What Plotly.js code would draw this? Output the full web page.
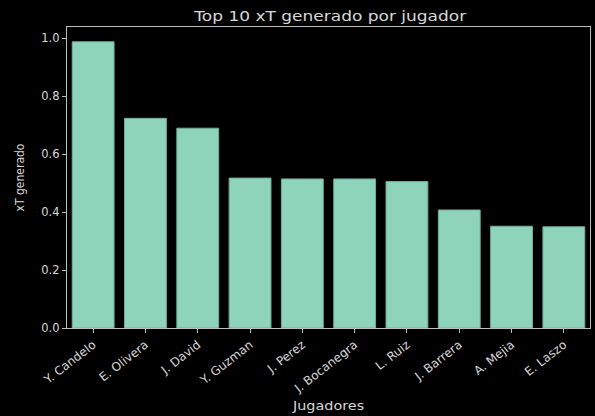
<!DOCTYPE html>
<html>
<head>
<meta charset="utf-8">
<script src="https://cdn.plot.ly/plotly-3.0.1.min.js"></script>
<style>
html,body{margin:0;padding:0;background:#000;}
#chart{width:595px;height:416px;}
#chart .gtitle{transform:scaleX(1.26);transform-box:fill-box;transform-origin:center;}
#chart .xtitle{transform:scaleX(1.2);transform-box:fill-box;transform-origin:center;}
</style>
</head>
<body>
<div id="chart"></div>
<script>
const players = ["Y. Candelo","E. Olivera","J. David","Y. Guzman","J. Perez","J. Bocanegra","L. Ruiz","J. Barrera","A. Mejia","E. Laszo"];
const xtValues = [0.987,0.723,0.689,0.517,0.514,0.514,0.505,0.407,0.351,0.349];
const yTicks = [0,0.2,0.4,0.6,0.8,1.0];
const yTickLabels = ["0.0","0.2","0.4","0.6","0.8","1.0"];

const fontFam = "DejaVu Sans, sans-serif";
const txt = "#d8d8d8";
const axisLine = "#bdbdbd";

Plotly.newPlot("chart", [{
  type: "bar",
  x: players,
  y: xtValues,
  width: 0.8,
  marker: {color: "#8dd4bb", line: {color: "#6fae9c", width: 1}},
  hoverinfo: "x+y"
}], {
  width: 595, height: 416,
  paper_bgcolor: "#000", plot_bgcolor: "#000",
  margin: {l: 67, r: 5, t: 27, b: 88},
  title: {text: "Top 10 xT generado por jugador", font: {family: fontFam, size: 13.5, color: txt}, x: 0.555, xanchor: "center", y: 0.96, yanchor: "middle"},
  xaxis: {
    type: "category", range: [-0.5, 9.5],
    tickangle: -38, tickfont: {family: fontFam, size: 12, color: txt},
    ticks: "outside", ticklen: 4, tickcolor: axisLine, tickwidth: 1,
    showline: true, linecolor: axisLine, linewidth: 1.2, mirror: true,
    showgrid: false, zeroline: false,
    title: {text: "Jugadores", font: {family: fontFam, size: 12, color: txt}, standoff: 6}
  },
  yaxis: {
    range: [0, 1.038], tickvals: yTicks, ticktext: yTickLabels,
    tickfont: {family: fontFam, size: 11.5, color: txt},
    ticks: "outside", ticklen: 4, tickcolor: axisLine, tickwidth: 1,
    showline: true, linecolor: axisLine, linewidth: 1.2, mirror: true,
    showgrid: false, zeroline: false,
    title: {text: "xT generado", font: {family: "DejaVu Sans Condensed, Liberation Sans Narrow, sans-serif", size: 12, color: txt}, standoff: 14}
  },
  bargap: 0.2,
  showlegend: false
}, {displayModeBar: false, staticPlot: true});
</script>
</body>
</html>
